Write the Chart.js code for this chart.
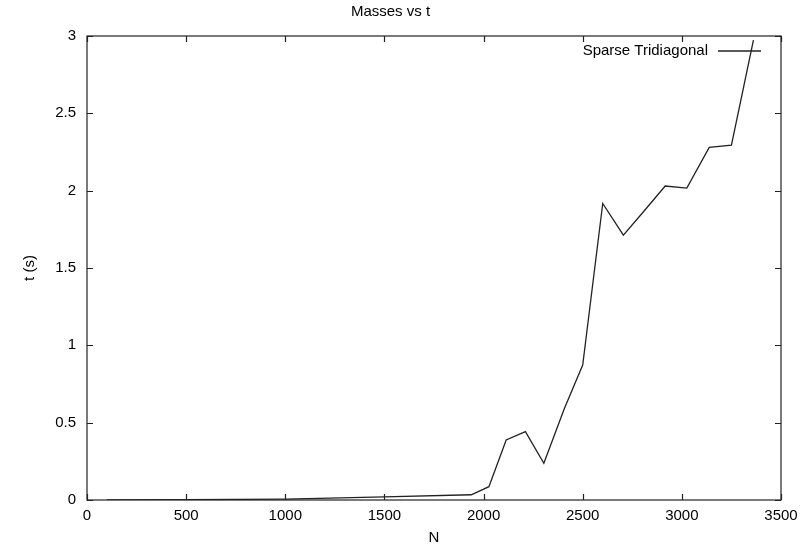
<!DOCTYPE html>
<html>
<head>
<meta charset="utf-8">
<script src="https://cdn.jsdelivr.net/npm/chart.js@4/dist/chart.umd.min.js"></script>
<style>
  html, body { margin: 0; padding: 0; background: #fff; }
  canvas { display: block; }
</style>
</head>
<body>
<canvas id="massChart" width="808" height="548"></canvas>
<script>
const nValues = [100, 500, 1000, 1500, 1938, 2027, 2114, 2211, 2304, 2408, 2500, 2601, 2705, 2802, 2916, 3025, 3138, 3250, 3361];
const tValues = [0.0, 0.002, 0.006, 0.02, 0.034, 0.086, 0.388, 0.442, 0.237, 0.593, 0.873, 1.917, 1.713, 1.857, 2.03, 2.017, 2.28, 2.295, 2.973];
const seriesLabel = 'Sparse Tridiagonal';

const FONT = "'Liberation Sans', Arial, Helvetica, sans-serif";
const FONT_SIZE = 15;
const INK = '#222';

// gnuplot-style frame: full box, ticks pointing inward on all four sides, key inside top-right
const framePlugin = {
    id: 'frame',
    afterDatasetsDraw(chart) {
        const ctx = chart.ctx;
        const area = chart.chartArea;
        const xs = chart.scales.x;
        const ys = chart.scales.y;
        const tick = 6;
        ctx.save();
        ctx.strokeStyle = INK;
        ctx.lineWidth = 1.2;
        ctx.strokeRect(area.left, area.top, area.right - area.left, area.bottom - area.top);
        ctx.beginPath();
        xs.ticks.forEach(t => {
            const px = Math.round(xs.getPixelForValue(t.value)) + 0.5;
            ctx.moveTo(px, area.bottom); ctx.lineTo(px, area.bottom - tick);
            ctx.moveTo(px, area.top); ctx.lineTo(px, area.top + tick);
        });
        ys.ticks.forEach(t => {
            const py = Math.round(ys.getPixelForValue(t.value)) + 0.5;
            ctx.moveTo(area.left, py); ctx.lineTo(area.left + tick, py);
            ctx.moveTo(area.right, py); ctx.lineTo(area.right - tick, py);
        });
        ctx.stroke();

        // key
        const ds = chart.data.datasets[0];
        const keyY = area.top + 15;
        const lineEnd = area.right - 20;
        const lineStart = lineEnd - 43;
        ctx.font = FONT_SIZE + 'px ' + FONT;
        ctx.fillStyle = '#000';
        ctx.textAlign = 'right';
        ctx.textBaseline = 'middle';
        ctx.fillText(ds.label, lineStart - 10, keyY);
        ctx.strokeStyle = ds.borderColor;
        ctx.lineWidth = ds.borderWidth;
        ctx.beginPath();
        ctx.moveTo(lineStart, keyY);
        ctx.lineTo(lineEnd, keyY);
        ctx.stroke();
        ctx.restore();
    }
};

new Chart(document.getElementById('massChart'), {
    type: 'line',
    data: {
        datasets: [{
            label: seriesLabel,
            data: nValues.map((n, i) => ({ x: n, y: tValues[i] })),
            borderColor: INK,
            borderWidth: 1.3,
            pointRadius: 0,
            fill: false,
            tension: 0
        }]
    },
    options: {
        responsive: false,
        animation: false,
        devicePixelRatio: 1,
        layout: { padding: { left: 0, right: 27, top: 0, bottom: 0 } },
        plugins: {
            legend: { display: false },
            tooltip: { enabled: false },
            title: {
                display: true,
                text: 'Masses vs t',
                color: '#000',
                font: { family: FONT, size: FONT_SIZE, weight: 'normal', lineHeight: 1.2 },
                padding: { top: 3, bottom: 15 }
            }
        },
        scales: {
            x: {
                type: 'linear',
                min: 0,
                max: 3500,
                grid: { display: false, drawTicks: false },
                border: { display: false },
                ticks: {
                    stepSize: 500,
                    autoSkip: false,
                    padding: 7,
                    color: '#000',
                    maxRotation: 0,
                    font: { family: FONT, size: FONT_SIZE },
                    callback: v => String(v)
                },
                title: {
                    display: true,
                    text: 'N',
                    color: '#000',
                    font: { family: FONT, size: FONT_SIZE, lineHeight: 1.2 },
                    padding: { top: 0, bottom: 1 }
                },
                afterFit(scale) { scale.height = 48; }
            },
            y: {
                min: 0,
                max: 3,
                grid: { display: false, drawTicks: false },
                border: { display: false },
                ticks: {
                    stepSize: 0.5,
                    autoSkip: false,
                    padding: 11,
                    color: '#000',
                    font: { family: FONT, size: FONT_SIZE },
                    callback: v => String(v)
                },
                title: {
                    display: true,
                    text: 't (s)',
                    color: '#000',
                    font: { family: FONT, size: FONT_SIZE, lineHeight: 1.2 },
                    padding: { top: 21, bottom: 0 }
                },
                afterFit(scale) { scale.width = 87; }
            }
        }
    },
    plugins: [framePlugin]
});
</script>
</body>
</html>
